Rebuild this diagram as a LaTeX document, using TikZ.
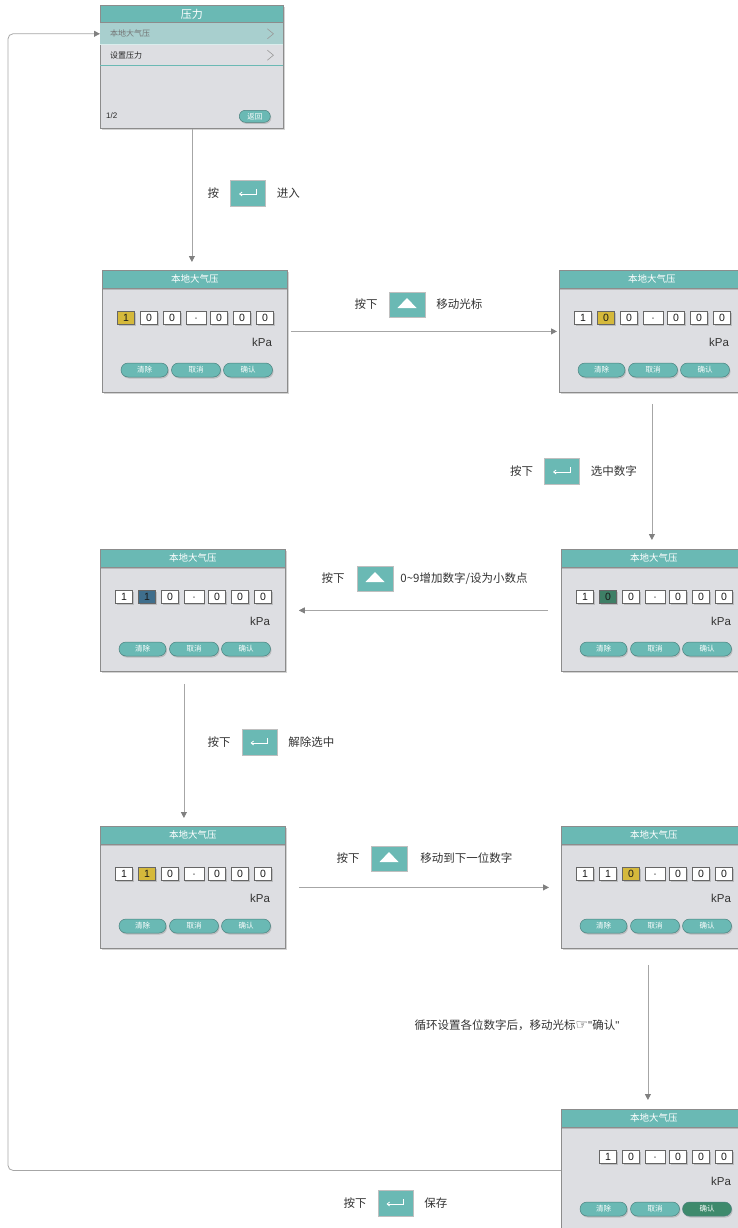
\documentclass[tikz,border=0pt]{standalone}
\usepackage{fontspec}
\setmainfont{Noto Sans CJK SC}
\newfontfamily\latinfont{Liberation Sans}
\newfontfamily\symfont{DejaVu Sans}
\usepackage{tikz}
\usetikzlibrary{arrows.meta,calc,positioning,shadows}
\tikzset{>={Triangle[length=6,width=6,color=black!50]}}
\usepackage{xcolor}
\definecolor{myteal}{HTML}{6AB9B4}
\definecolor{mypanel}{HTML}{DDDEE2}
\definecolor{myrow}{HTML}{A8CFCE}
\definecolor{myyellow}{HTML}{D5B93B}
\definecolor{mygreen}{HTML}{3E7F66}
\definecolor{myblue}{HTML}{3F6E8C}
\definecolor{myok}{HTML}{3E8A6C}
\colorlet{myline}{black!35}
\colorlet{mytext}{black!80}

\newcommand{\screen}[3]{% name, top left, confirm fill
  \node[panel] (#1) at (#2) {};
  \node[header] (#1h) at (#1.north west) {本地大气压};
  \node[unit] (#1u) at ([shift={(160,72)}]#1.north west) {kPa};
  \node[btn,minimum width=47] (#1b1) at ([shift={(42.5,100)}]#1.north west) {清除};
  \node[btn] (#1b2) at ([shift={(94,100)}]#1.north west) {取消};
  \node[btn,fill=#3] (#1b3) at ([shift={(146,100)}]#1.north west) {确认};
}
\newcommand{\digits}[5]{% panel, first slot, chars, marked slot, mark fill
  \foreach \ch [count=\i from #2] in {#3} {
    \ifnum\i=#4 \def\fc{#5}\else\def\fc{white}\fi
    \ifnum\i=4 \def\w{20}\else\def\w{17}\fi
    \pgfmathsetmacro\dx{23*\i+1+(\i>3)}
    \node[digit,fill=\fc,minimum width=\w] (#1d\i) at ([shift={(\dx,48)}]#1.north west) {\ch};
  }
}
\newcommand{\enterkey}[2]{% name, centre
  \node[icon] (#1) at (#2) {};
  \draw[white,line width=0.8,-{Straight Barb[length=2.5,width=4]}] ([shift={(8,-4)}]#1.center) -- ++(0,5) -- ++(-17,0);
}
\newcommand{\upkey}[2]{% name, centre
  \node[icon,minimum width=36,minimum height=25] (#1) at (#2) {};
  \fill[white] ([shift={(-9.5,3.5)}]#1.center) -- ++(19,0) -- ++(-9.5,-10) -- cycle;
}

\begin{document}
\begin{tikzpicture}[x=1pt,y=-1pt,node distance=11pt,
    panel/.style={anchor=north west,draw=black!45,fill=mypanel,line width=0.8,minimum width=185,minimum height=122,inner sep=0,
      drop shadow={shadow xshift=2pt,shadow yshift=-2pt,opacity=0.35}},
    header/.style={anchor=north west,fill=myteal,draw=black!45,line width=0.6,minimum width=185,minimum height=18,inner sep=0,
      text=white,font=\fontsize{9.5}{10}\selectfont,drop shadow={shadow xshift=0pt,shadow yshift=-1.2pt,opacity=0.4}},
    row/.style={anchor=north west,minimum width=183,minimum height=21,inner sep=0},
    item/.style={anchor=west,inner sep=0,text=black!85,font=\fontsize{8}{8}\selectfont},
    unit/.style={inner sep=0,text=mytext,font=\latinfont\fontsize{11.5}{12}\selectfont},
    btn/.style={fill=myteal,draw=myteal!70!black,line width=0.5,rounded corners=7,minimum width=49,minimum height=14,inner sep=0,
      text=white,font=\fontsize{7.5}{8}\selectfont,drop shadow={shadow xshift=1pt,shadow yshift=-1.5pt,opacity=0.35}},
    digit/.style={draw=black!60,line width=0.5,minimum height=13,inner sep=0,text height=7.2pt,text depth=0pt,text=black!90,
      font=\latinfont\fontsize{10.5}{10}\selectfont,drop shadow={shadow xshift=1.2pt,shadow yshift=-1.2pt,opacity=0.35}},
    icon/.style={fill=myteal,draw=black!25,line width=0.5,minimum width=35,minimum height=26,inner sep=0},
    say/.style={inner sep=0,text=mytext,font=\fontsize{11.5}{12}\selectfont},
    flow/.style={->,myline,line width=0.8}]
    \useasboundingbox (0,0) rectangle (738,1228);

    % menu
    \node[panel,minimum width=183,minimum height=123] (P0) at (100,5) {};
    \node[header,minimum width=183,minimum height=17.5,font=\fontsize{11}{12}\selectfont] (P0h) at (P0.north west) {压力};
    \node[row,fill=myrow] (P0r1) at (P0h.south west) {};
    \node[row] (P0r2) at (P0r1.south west) {};
    \draw[white!75!myteal,line width=0.6] (P0r1.south west) -- (P0r1.south east);
    \draw[myteal,line width=0.8] (P0r2.south west) -- (P0r2.south east);
    \node[item,text=black!55] (P0t1) at ([xshift=10pt]P0r1.west) {本地大气压};
    \node[item] (P0t2) at ([xshift=10pt]P0r2.west) {设置压力};
    \draw[black!40,line width=0.6] ([shift={(-16,-5)}]P0r1.east) -- ++(6,5) -- ++(-6,5);
    \draw[black!40,line width=0.6] ([shift={(-16,-5)}]P0r2.east) -- ++(6,5) -- ++(-6,5);
    \node[item,font=\latinfont\fontsize{8}{8}\selectfont] (P0p) at ([shift={(6,-13)}]P0.south west) {1/2};
    \node[btn,minimum width=31,minimum height=12,rounded corners=6] (P0b) at ([shift={(-29,-12.5)}]P0.south east) {返回};

    % screens
    \screen{P1}{102,270}{myteal}
    \digits{P1}{1}{1,0,0,·,0,0,0}{1}{myyellow}
    \screen{P2}{559,270}{myteal}
    \digits{P2}{1}{1,0,0,·,0,0,0}{2}{myyellow}
    \screen{P3}{100,549}{myteal}
    \digits{P3}{1}{1,1,0,·,0,0,0}{2}{myblue}
    \screen{P4}{561,549}{myteal}
    \digits{P4}{1}{1,0,0,·,0,0,0}{2}{mygreen}
    \screen{P5}{100,826}{myteal}
    \digits{P5}{1}{1,1,0,·,0,0,0}{2}{myyellow}
    \screen{P6}{561,826}{myteal}
    \digits{P6}{1}{1,1,0,·,0,0,0}{3}{myyellow}
    \screen{P7}{561,1109}{myok}
    \digits{P7}{2}{1,0,·,0,0,0}{0}{white}

    % steps
    \draw[flow,shorten >=8] (P0.south) -- (P0.south |- P1.north);
    \enterkey{k1}{248,193}
    \node[say,left=of k1] (s1a) {按};
    \node[say,right=of k1] (s1b) {进入};

    \draw[flow,shorten <=3,shorten >=2] (P1.east) -- (P2.west);
    \upkey{k2}{407,304.5}
    \node[say,left=of k2] (s2a) {按下};
    \node[say,right=of k2] (s2b) {移动光标};

    \draw[flow,shorten <=11,shorten >=9] (P2.south) -- (P2.south |- P4.north);
    \enterkey{k3}{562,471}
    \node[say,left=of k3] (s3a) {按下};
    \node[say,right=of k3] (s3b) {选中数字};

    \draw[flow,shorten <=13,shorten >=13] (P4.west) -- (P4.west -| P3.east);
    \upkey{k4}{375,578.5}
    \node[say,left=12pt of k4] (s4a) {按下};
    \node[say,right=7pt of k4] (s4b) {0\textasciitilde9增加数字/设为小数点};

    \draw[flow,shorten <=12,shorten >=8] ([xshift=-9pt]P3.south) -- ([xshift=-9pt]P3.south |- P5.north);
    \enterkey{k5}{259.5,742}
    \node[say,left=of k5] (s5a) {按下};
    \node[say,right=of k5] (s5b) {解除选中};

    \draw[flow,shorten <=13,shorten >=12] (P5.east) -- (P5.east -| P6.west);
    \upkey{k6}{389,858.5}
    \node[say,left=of k6] (s6a) {按下};
    \node[say,right=13pt of k6] (s6b) {移动到下一位数字};

    \draw[flow,shorten <=16,shorten >=9] ([xshift=-6pt]P6.south) -- ([xshift=-6pt]P6.south |- P7.north);
    \node[say] (s7) at (517,1025) {循环设置各位数字后，移动光标{\symfont\fontsize{14}{14}\selectfont ☞}{\latinfont"}确认{\latinfont"}};

    \coordinate (back) at (8,1170);
    \draw[flow,rounded corners=5] (P7.west) -- (P7.west -| back) |- (P0r1.west);
    \enterkey{k8}{395.5,1203}
    \node[say,left=of k8] (s8a) {按下};
    \node[say,right=of k8] (s8b) {保存};
\end{tikzpicture}
\end{document}
